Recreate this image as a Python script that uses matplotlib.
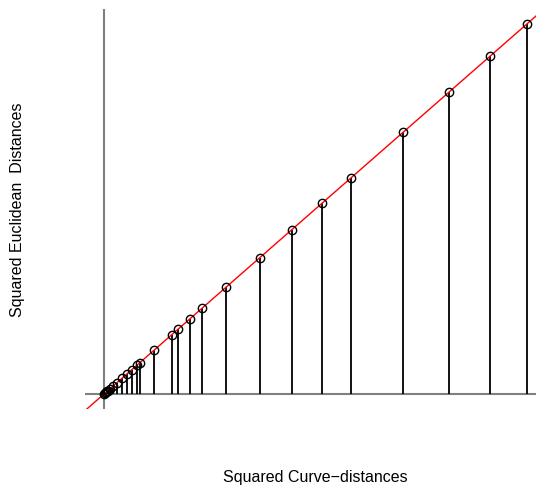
import matplotlib
matplotlib.use("Agg")
import matplotlib.pyplot as plt

# squared curve-distances (x) and squared euclidean distances (y)
curve_d2 = [0.00, 0.01, 0.02, 0.03, 0.04, 0.06, 0.09, 0.13, 0.18, 0.23, 0.28,
            0.33, 0.36, 0.50, 0.68, 0.74, 0.86, 0.98, 1.22, 1.56, 1.88, 2.18,
            2.47, 2.99, 3.45, 3.86, 4.23]
eucl_d2 = [0.00, 0.01, 0.02, 0.03, 0.04, 0.06, 0.09, 0.13, 0.18, 0.23, 0.28,
           0.33, 0.36, 0.50, 0.68, 0.74, 0.86, 0.98, 1.22, 1.56, 1.88, 2.18,
           2.47, 2.99, 3.45, 3.86, 4.23]

plt.rcParams['font.family'] = ['Liberation Sans', 'DejaVu Sans']

fig = plt.figure(figsize=(5.36, 4.89), dpi=100)
ax = fig.add_axes([85/536, 79/489, 451/536, 400/489])
ax.set_xlim(-0.19, 4.32)
ax.set_ylim(-15/87.5, 385/87.5)
ax.axis('off')

ax.axhline(0, color='#808080', lw=1.5)
ax.axvline(0, color='#808080', lw=1.5)

ax.vlines(curve_d2, 0, eucl_d2, color='black', lw=1.3)
ax.axline((0, 0), slope=1, color='red', lw=1)
ax.plot(curve_d2, eucl_d2, 'o', mfc='none', mec='black', ms=6, mew=1)

fig.text(315/536, 1 - 478/489, "Squared Curve\u2212distances", ha='center', va='center', fontsize=11.5)
fig.text(18/536, 1 - 210/489, "Squared Euclidean  Distances", ha='center', va='center',
         rotation=90, fontsize=11.5)

fig.savefig("out.png", dpi=100)
